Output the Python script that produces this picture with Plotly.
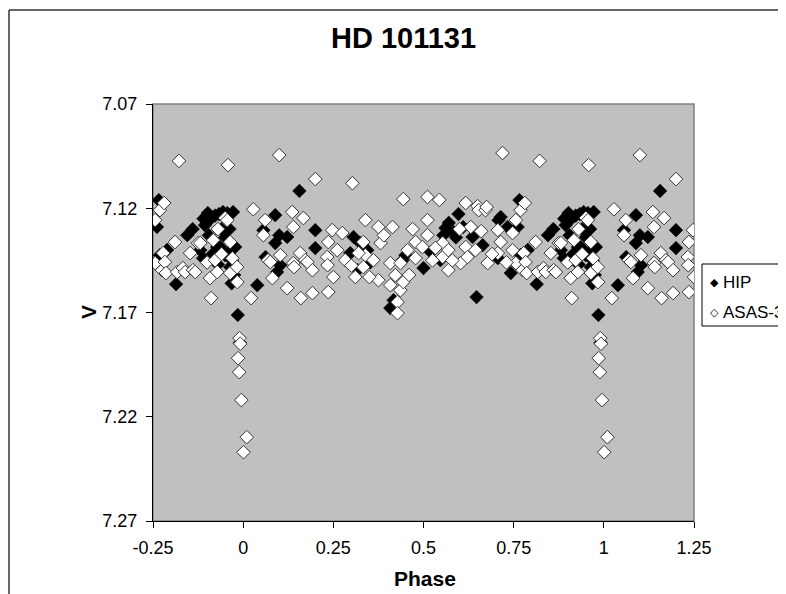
import plotly.graph_objects as go

# one cycle of each data set (phase 0..1), V magnitude
hip_phase = [0.039, 0.056, 0.062, 0.089, 0.089, 0.094, 0.100, 0.103, 0.122, 0.156,
             0.200, 0.200, 0.297, 0.306, 0.317, 0.325, 0.344, 0.408, 0.417, 0.442,
             0.450, 0.500, 0.547, 0.555, 0.561, 0.570, 0.583, 0.590, 0.597, 0.636,
             0.647, 0.664, 0.706, 0.708, 0.714, 0.733, 0.742, 0.761, 0.766, 0.769,
             0.789, 0.814, 0.845, 0.860, 0.881, 0.889, 0.890, 0.894, 0.902, 0.905,
             0.910, 0.915, 0.922, 0.928, 0.930, 0.933, 0.936, 0.940, 0.944, 0.950,
             0.950, 0.956, 0.958, 0.962, 0.964, 0.968, 0.969, 0.972, 0.975, 0.978,
             0.985, 0.991, 0.352, 0.520, 0.610]
hip_v = [7.1569, 7.1305, 7.1434, 7.1233, 7.1367, 7.1506, 7.1330, 7.1473, 7.1338, 7.1117,
         7.1305, 7.1391, 7.1415, 7.1338, 7.1497, 7.1367, 7.1401, 7.1679, 7.1641, 7.1449,
         7.1425, 7.1487, 7.1449, 7.1330, 7.1295, 7.1270, 7.1314, 7.1340, 7.1228, 7.1338,
         7.1626, 7.1377, 7.1439, 7.1257, 7.1242, 7.1290, 7.1511, 7.1290, 7.1161, 7.1425,
         7.1400, 7.1564, 7.1329, 7.1300, 7.1401, 7.1440, 7.1250, 7.1281, 7.1223, 7.1330,
         7.1250, 7.1420, 7.1235, 7.1386, 7.1470, 7.1228, 7.1386, 7.1300, 7.1218, 7.1425,
         7.1340, 7.1223, 7.1415, 7.1300, 7.1482, 7.1560, 7.1449, 7.1218, 7.1520, 7.1386,
         7.1712, 7.1845, 7.1460, 7.1410, 7.1290]

asas_phase = [0.001, 0.010, 0.022, 0.028, 0.056, 0.061, 0.069, 0.075, 0.081, 0.100,
              0.103, 0.122, 0.136, 0.139, 0.139, 0.141, 0.158, 0.160, 0.167, 0.172,
              0.178, 0.192, 0.192, 0.200, 0.233, 0.234, 0.236, 0.236, 0.247, 0.250,
              0.261, 0.275, 0.283, 0.303, 0.311, 0.333, 0.333, 0.339, 0.339, 0.361,
              0.375, 0.375, 0.381, 0.408, 0.408, 0.414, 0.422, 0.428, 0.428, 0.436,
              0.436, 0.444, 0.444, 0.456, 0.478, 0.478, 0.497, 0.511, 0.511, 0.511,
              0.544, 0.553, 0.553, 0.569, 0.569, 0.603, 0.617, 0.617, 0.622, 0.631,
              0.644, 0.650, 0.653, 0.672, 0.675, 0.678, 0.706, 0.706, 0.714, 0.719,
              0.747, 0.747, 0.756, 0.756, 0.769, 0.775, 0.778, 0.781, 0.783, 0.786,
              0.811, 0.817, 0.822, 0.833, 0.839, 0.853, 0.861, 0.867, 0.875, 0.881,
              0.900, 0.908, 0.911, 0.917, 0.922, 0.928, 0.930, 0.940, 0.950, 0.956,
              0.958, 0.964, 0.964, 0.970, 0.983, 0.984, 0.986, 0.989, 0.990, 0.992,
              0.995, 0.300, 0.320, 0.350, 0.390, 0.460, 0.470, 0.525, 0.533, 0.580,
              0.600, 0.660, 0.690, 0.730]
asas_v = [7.2370, 7.2298, 7.1631, 7.1205, 7.1329, 7.1257, 7.1449, 7.1458, 7.1535, 7.0945,
          7.1425, 7.1583, 7.1218, 7.1290, 7.1463, 7.1482, 7.1415, 7.1631, 7.1247, 7.1449,
          7.1458, 7.1497, 7.1607, 7.1060, 7.1434, 7.1473, 7.1362, 7.1602, 7.1305, 7.1530,
          7.1401, 7.1319, 7.1449, 7.1080, 7.1530, 7.1362, 7.1482, 7.1257, 7.1425, 7.1449,
          7.1290, 7.1545, 7.1367, 7.1463, 7.1569, 7.1290, 7.1521, 7.1650, 7.1703, 7.1463,
          7.1593, 7.1156, 7.1554, 7.1401, 7.1362, 7.1439, 7.1386, 7.1146, 7.1257, 7.1329,
          7.1160, 7.1367, 7.1434, 7.1401, 7.1497, 7.1463, 7.1175, 7.1386, 7.1434, 7.1290,
          7.1401, 7.1190, 7.1209, 7.1209, 7.1194, 7.1463, 7.1305, 7.1415, 7.1362, 7.0935,
          7.1319, 7.1401, 7.1257, 7.1463, 7.1209, 7.1497, 7.1415, 7.1175, 7.1458, 7.1511,
          7.1362, 7.1506, 7.0973, 7.1487, 7.1506, 7.1415, 7.1497, 7.1506, 7.1367, 7.1367,
          7.1460, 7.1535, 7.1631, 7.1353, 7.1449, 7.1506, 7.1300, 7.1420, 7.1247, 7.1257,
          7.0993, 7.1362, 7.1511, 7.1440, 7.1482, 7.1554, 7.1919, 7.1986, 7.1823, 7.1850,
          7.2120, 7.1475, 7.1415, 7.1530, 7.1330, 7.1520, 7.1300, 7.1450, 7.1390, 7.1450,
          7.1300, 7.1310, 7.1420, 7.1460]

x_ticks = [-0.25, 0, 0.25, 0.5, 0.75, 1, 1.25]
x_labels = ["-0.25", "0", "0.25", "0.5", "0.75", "1", "1.25"]
y_ticks = [7.07, 7.12, 7.17, 7.22, 7.27]
y_labels = ["7.07", "7.12", "7.17", "7.22", "7.27"]

FONT = "Liberation Sans, Arial, sans-serif"


# repeat the cycle so that the plot covers -0.25..1.25 in phase
def fold(phase, v, lo=-0.25, hi=1.25):
    xs, ys = [], []
    for p, m in zip(phase, v):
        for k in (-1, 0, 1):
            if lo <= p + k <= hi:
                xs.append(p + k)
                ys.append(m)
    return xs, ys


hx, hy = fold(hip_phase, hip_v)
ax, ay = fold(asas_phase, asas_v)

fig = go.Figure()
fig.add_trace(go.Scatter(x=hx, y=hy, mode="markers", name="HIP",
                         marker=dict(symbol="diamond", size=10.5, color="black",
                                     line=dict(color="black", width=0.5))))
fig.add_trace(go.Scatter(x=ax, y=ay, mode="markers", name="ASAS-3",
                         marker=dict(symbol="diamond", size=10.5, color="white",
                                     line=dict(color="#333333", width=1))))

# page has an 8px body margin, so positions below are in screen pixels
OFF = 8
L, R, T, B = 153 - OFF, 694 - OFF, 104 - OFF, 521 - OFF
W, H = 786, 594


def px(x):
    return (x - OFF - L) / (R - L)


def py(y):
    return (B - (y - OFF)) / (B - T)


fig.update_layout(
    width=W, height=H,
    margin=dict(l=L, r=W - R, t=T, b=H - B, autoexpand=False),
    paper_bgcolor="white", plot_bgcolor="#C0C0C0",
    font=dict(family=FONT, size=18, color="black"),
    showlegend=False,
    xaxis=dict(range=[-0.25, 1.25], tickvals=x_ticks, ticktext=x_labels,
               showgrid=False, zeroline=False, showline=True, linecolor="black",
               linewidth=1, ticks="outside", ticklen=6, tickcolor="black",
               ticklabelstandoff=4),
    yaxis=dict(range=[7.27, 7.07], tickvals=y_ticks, ticktext=y_labels,
               showgrid=False, zeroline=False, showline=True, linecolor="black",
               linewidth=1, ticks="outside", ticklen=6, tickcolor="black",
               ticklabelstandoff=5),
    xaxis2=dict(range=[-0.25, 1.25], tickvals=x_ticks, overlaying="x", anchor="y",
                showticklabels=False, showgrid=False, zeroline=False, ticks="inside",
                ticklen=5, tickcolor="black"),
    yaxis2=dict(range=[7.27, 7.07], tickvals=y_ticks, overlaying="y", anchor="x",
                showticklabels=False, showgrid=False, zeroline=False, ticks="inside",
                ticklen=5, tickcolor="black"),
)

# plot area frame (top/right grey)
fig.add_shape(type="rect", xref="paper", yref="paper", x0=0, x1=1, y0=0, y1=1,
              line=dict(color="#808080", width=1.5), layer="below")
# chart border: only top and left edges are inside the picture
fig.add_shape(type="line", xref="paper", yref="paper", x0=px(9), x1=px(900),
              y0=py(10), y1=py(10), line=dict(color="#333333", width=1.5))
fig.add_shape(type="line", xref="paper", yref="paper", x0=px(9), x1=px(9),
              y0=py(10), y1=py(700), line=dict(color="#333333", width=1.5))

# legend box, cut by the right edge as in the original
fig.add_shape(type="rect", xref="paper", yref="paper", x0=px(702), x1=px(820),
              y0=py(326), y1=py(264), line=dict(color="black", width=1),
              fillcolor="white")
legend_items = [("HIP", "\u25c6", 282), ("ASAS-3", "\u25c7", 312)]
for label, sym, yy in legend_items:
    fig.add_annotation(text=sym, xref="paper", yref="paper", x=px(714), y=py(yy),
                       xanchor="center", yanchor="middle", showarrow=False,
                       font=dict(family="DejaVu Sans", size=11))
    fig.add_annotation(text=label, xref="paper", yref="paper", x=px(721), y=py(yy),
                       xanchor="left", yanchor="middle", showarrow=False,
                       font=dict(size=17))

fig.add_annotation(text="<b>HD 101131</b>", xref="paper", yref="paper",
                   x=px(403), y=py(38), xanchor="center", yanchor="middle",
                   showarrow=False, font=dict(size=29))
fig.add_annotation(text="<b>Phase</b>", xref="paper", yref="paper",
                   x=px(425), y=py(578), xanchor="center", yanchor="middle",
                   showarrow=False, font=dict(size=21))
fig.add_annotation(text="<b>V</b>", xref="paper", yref="paper",
                   x=px(88), y=py(312), xanchor="center", yanchor="middle",
                   showarrow=False, textangle=-90, font=dict(size=21))

fig.write_html("out.html")
